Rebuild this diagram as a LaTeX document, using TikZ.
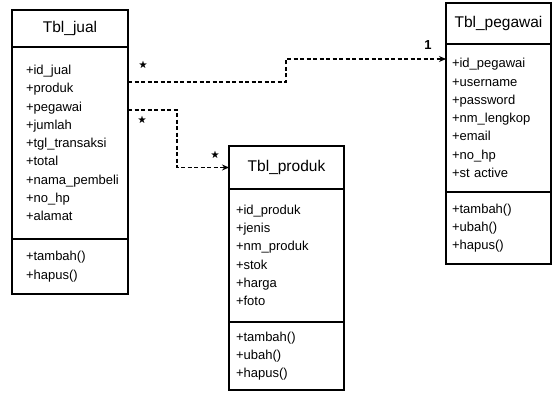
\documentclass[tikz,border=0pt]{standalone}
\usepackage{amssymb}
\usepackage{fontspec}
\setmainfont{Liberation Sans}
\usetikzlibrary{arrows.meta,positioning,calc}

\tikzset{
    tblhead/.style={draw, line width=2pt, outer sep=0pt, inner ysep=0pt, align=center,
        anchor=north, font=\fontsize{15.5}{18}\selectfont},
    tblpart/.style={draw, line width=2pt, outer sep=0pt, inner ysep=0pt, align=left,
        font=\fontsize{13}{18.3}\selectfont},
    relasi/.style={line width=1.5pt, dash pattern=on 4pt off 2.5pt, -{Stealth[length=7pt,width=6pt]}},
    kardinal/.style={inner sep=0pt, font=\fontsize{9}{11}\selectfont}
}

\begin{document}
\begin{tikzpicture}[x=1pt, y=-1pt]
\useasboundingbox (0,0) rectangle (553,393);

%% Tbl_jual
\node [tblhead, text width=88pt, inner xsep=14pt, minimum height=37pt] (jhead) at (70,10) {Tbl\_jual};
\node [tblpart, text width=88pt, inner xsep=14pt, minimum height=192pt, below=0pt of jhead] (jattr)
    {+id\_jual\\+produk\\+pegawai\\+jumlah\\+tgl\_transaksi\\+total\\+nama\_pembeli\\+no\_hp\\+alamat};
\node [tblpart, text width=88pt, inner xsep=14pt, minimum height=55pt, below=0pt of jattr] (jmeth)
    {+tambah()\\+hapus()};

%% Tbl_produk
\node [tblhead, text width=101pt, inner xsep=7pt, minimum height=43pt] (prhead) at (286.5,146) {Tbl\_produk};
\node [tblpart, text width=101pt, inner xsep=7pt, minimum height=133pt, below=0pt of prhead] (prattr)
    {+id\_produk\\+jenis\\+nm\_produk\\+stok\\+harga\\+foto};
\node [tblpart, text width=101pt, inner xsep=7pt, minimum height=68pt, below=0pt of prattr] (prmeth)
    {+tambah()\\+ubah()\\+hapus()};

%% Tbl_pegawai
\node [tblhead, text width=93pt, inner xsep=6pt, minimum height=41pt] (pghead) at (498.5,3) {Tbl\_pegawai};
\node [tblpart, text width=93pt, inner xsep=6pt, minimum height=148pt, below=0pt of pghead] (pgattr)
    {+id\_pegawai\\+username\\+password\\+nm\_lengkop\\+email\\+no\_hp\\+st active};
\node [tblpart, text width=93pt, inner xsep=6pt, minimum height=72pt, below=0pt of pgattr] (pgmeth)
    {+tambah()\\+ubah()\\+hapus()};

%% titik relasi
\coordinate (j1) at ($(jattr.north east)+(0,35)$);
\coordinate (j2) at ($(jattr.north east)+(0,63)$);
\coordinate (p1) at ($(pgattr.north west)+(0,15)$);

\draw [relasi] (j1) -- ++(158,0) |- (p1);
\draw [relasi] (j2) -- ++(49,0) |- (prhead.west);

%% kardinalitas
\node [kardinal] (k1) at (143,65) {$\bigstar$};
\node [kardinal, font=\fontsize{13}{15}\selectfont] (k2) at (428,45) {\textbf{1}};
\node [kardinal] (k3) at (142,120) {$\bigstar$};
\node [kardinal] (k4) at (215,155) {$\bigstar$};

\end{tikzpicture}
\end{document}
